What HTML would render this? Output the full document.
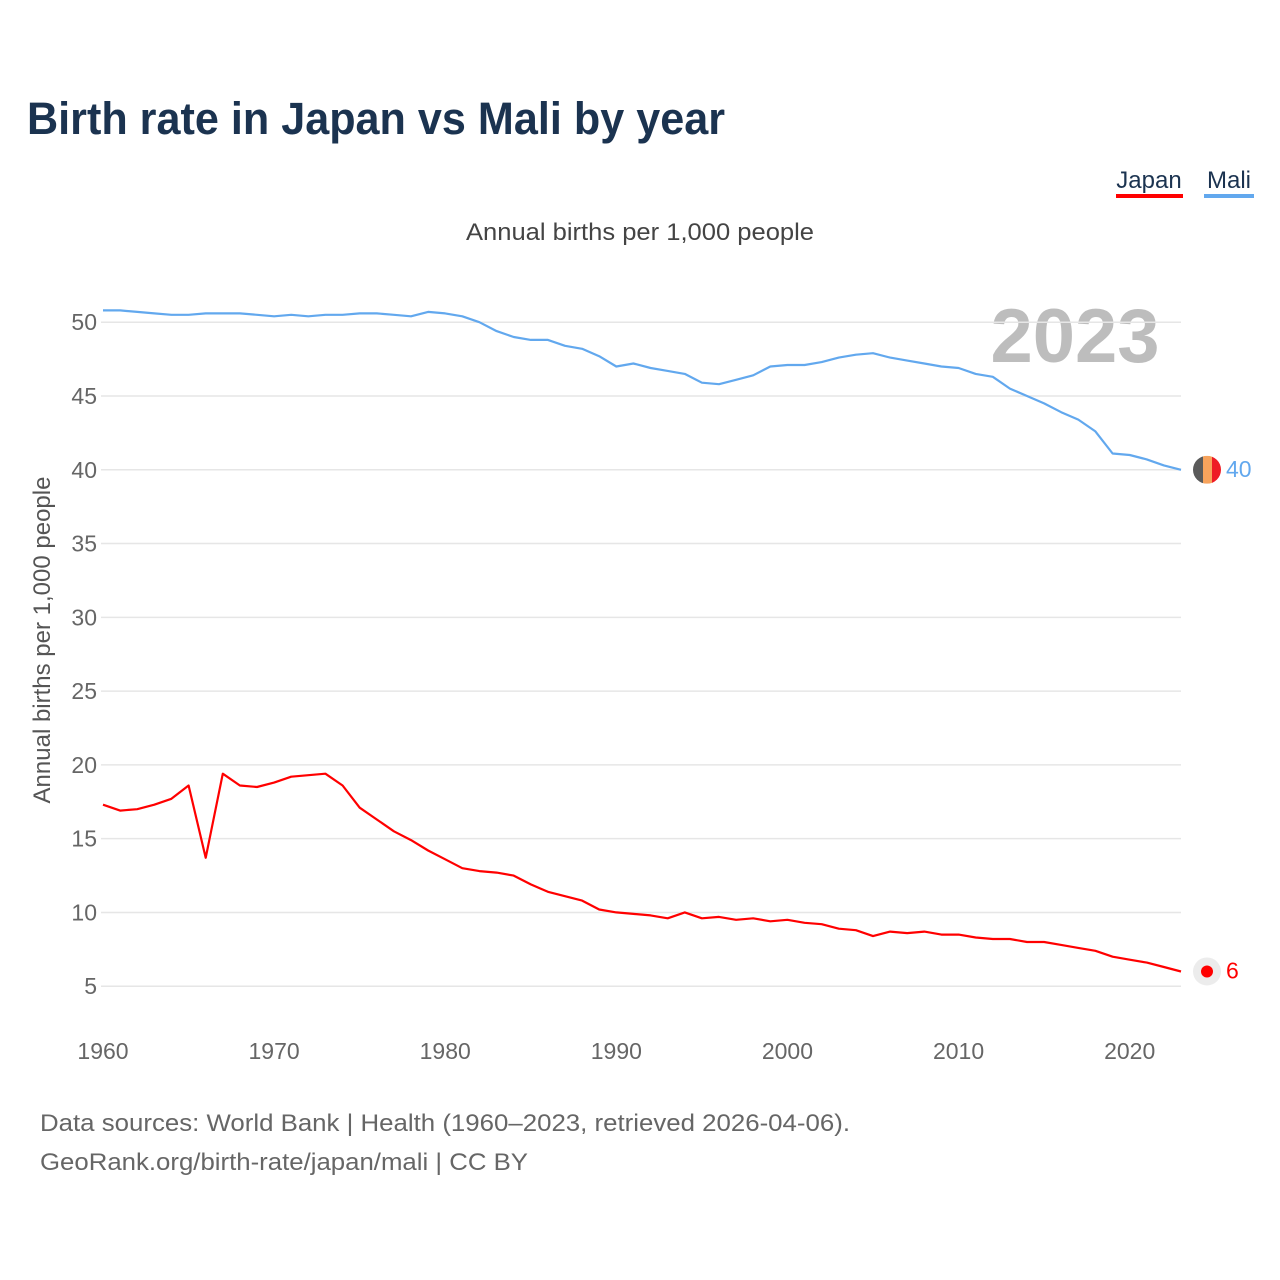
<!DOCTYPE html>
<html><head><meta charset="utf-8"><style>
html,body{margin:0;padding:0;background:#fff;}
body{width:1280px;height:1280px;position:relative;font-family:"Liberation Sans",sans-serif;}
</style></head><body>
<svg width="1280" height="1280" xmlns="http://www.w3.org/2000/svg" style="position:absolute;left:0;top:0">
<text x="27" y="134" font-size="45" font-weight="bold" fill="#1b3350" textLength="698" lengthAdjust="spacingAndGlyphs">Birth rate in Japan vs Mali by year</text>
<g>
<text x="1149" y="188" font-size="24" fill="#1b3350" text-anchor="middle">Japan</text>
<rect x="1116" y="194" width="67" height="4" fill="#ff0000"/>
<text x="1229" y="188" font-size="24" fill="#1b3350" text-anchor="middle">Mali</text>
<rect x="1204" y="194" width="50" height="4" fill="#62a8ee"/>
</g>
<text x="466" y="240" font-size="24" fill="#444" textLength="348" lengthAdjust="spacingAndGlyphs">Annual births per 1,000 people</text>
<text x="1075" y="362" font-size="76" font-weight="bold" fill="#bdbdbd" text-anchor="middle">2023</text>
<text transform="translate(50,640) rotate(-90)" font-size="24" fill="#555" text-anchor="middle">Annual births per 1,000 people</text>
<g id="grid"></g>
<g id="yticks"></g>
<g id="xticks"></g>
<g id="series"></g>
<g id="ends"></g>
<text x="40" y="1131" font-size="24" fill="#666" textLength="810" lengthAdjust="spacingAndGlyphs">Data sources: World Bank | Health (1960–2023, retrieved 2026-04-06).</text>
<text x="40" y="1170" font-size="24" fill="#666" textLength="488" lengthAdjust="spacingAndGlyphs">GeoRank.org/birth-rate/japan/mali | CC BY</text>
</svg>
<script>
const years = [];
for (let y = 1960; y <= 2023; y++) years.push(y);
const mali = [50.8,50.8,50.7,50.6,50.5,50.5,50.6,50.6,50.6,50.5,50.4,50.5,50.4,50.5,50.5,50.6,50.6,50.5,50.4,50.7,50.6,50.4,50.0,49.4,49.0,48.8,48.8,48.4,48.2,47.7,47.0,47.2,46.9,46.7,46.5,45.9,45.8,46.1,46.4,47.0,47.1,47.1,47.3,47.6,47.8,47.9,47.6,47.4,47.2,47.0,46.9,46.5,46.3,45.5,45.0,44.5,43.9,43.4,42.6,41.1,41.0,40.7,40.3,40.0];
const japan = [17.3,16.9,17.0,17.3,17.7,18.6,13.7,19.4,18.6,18.5,18.8,19.2,19.3,19.4,18.6,17.1,16.3,15.5,14.9,14.2,13.6,13.0,12.8,12.7,12.5,11.9,11.4,11.1,10.8,10.2,10.0,9.9,9.8,9.6,10.0,9.6,9.7,9.5,9.6,9.4,9.5,9.3,9.2,8.9,8.8,8.4,8.7,8.6,8.7,8.5,8.5,8.3,8.2,8.2,8.0,8.0,7.8,7.6,7.4,7.0,6.8,6.6,6.3,6.0];
const yTicks = [5,10,15,20,25,30,35,40,45,50];
const xTicks = [1960,1970,1980,1990,2000,2010,2020];
const endLabels = ["40","6"];
const NS = "http://www.w3.org/2000/svg";
const X = v => 103 + (v - 1960) * (1078 / 63);
const Y = v => 1060 - v * (664 / 45);
function mk(tag, attrs, parent, txt) {
  const e = document.createElementNS(NS, tag);
  for (const k in attrs) e.setAttribute(k, attrs[k]);
  if (txt !== undefined) e.textContent = txt;
  parent.appendChild(e); return e;
}
const grid = document.getElementById('grid'), yt = document.getElementById('yticks'), xt = document.getElementById('xticks');
yTicks.forEach(t => {
  const l = mk('line', {x1: 101, x2: 1181, y1: Y(t), y2: Y(t), stroke: '#e6e6e6', 'stroke-width': 1.5}, grid);
  
  
  const tx = mk('text', {x: 97, y: Y(t) + 8, 'font-size': 23, fill: '#666', 'text-anchor': 'end'}, yt, String(t));
  
  
});
xTicks.forEach(t => {
  const tx = mk('text', {x: X(t), y: 1059, 'font-size': 23, fill: '#666', 'text-anchor': 'middle'}, xt, String(t));
  
  
});
const ser = document.getElementById('series');
function line(vals, color, name) {
  const d = vals.map((v, i) => (i ? 'L' : 'M') + X(years[i]).toFixed(1) + ',' + Y(v).toFixed(1)).join('');
  const p = mk('path', {d: d, fill: 'none', stroke: color, 'stroke-width': 2.2, 'stroke-linejoin': 'round'}, ser);
  
  
}
line(mali, '#62a8ee', 'mali-line');
line(japan, '#ff0000', 'japan-line');
const ends = document.getElementById('ends');
const last = years.length - 1;
const mx = X(years[last]) + 26, my = Y(mali[last]);
const g1 = mk('g', {}, ends);


mk('defs', {}, g1).innerHTML = '<clipPath id="fc"><circle cx="' + mx + '" cy="' + my + '" r="14"/></clipPath>';
mk('rect', {x: mx - 14, y: my - 14, width: 10, height: 28, fill: '#5a5a5a', 'clip-path': 'url(#fc)'}, g1);
mk('rect', {x: mx - 4, y: my - 14, width: 9, height: 28, fill: '#f7a35c', 'clip-path': 'url(#fc)'}, g1);
mk('rect', {x: mx + 5, y: my - 14, width: 10, height: 28, fill: '#ee1c25', 'clip-path': 'url(#fc)'}, g1);
const t1 = mk('text', {x: mx + 19, y: my + 7, 'font-size': 23, fill: '#62a8ee'}, ends, endLabels[0]);


const jy = Y(japan[last]);
const c1 = mk('circle', {cx: mx, cy: jy, r: 14, fill: '#ececec'}, ends);


const c2 = mk('circle', {cx: mx, cy: jy, r: 6, fill: '#ff0000'}, ends);


const t2 = mk('text', {x: mx + 19, y: jy + 7, 'font-size': 23, fill: '#ff0000'}, ends, endLabels[1]);


</script>
</body></html>
